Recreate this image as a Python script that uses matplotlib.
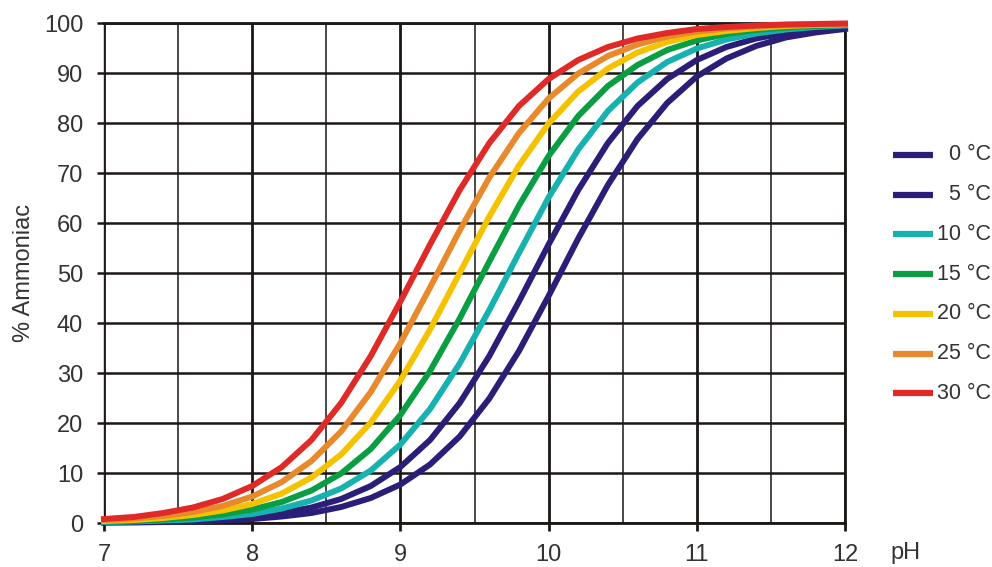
import matplotlib
matplotlib.use('Agg')
import matplotlib.pyplot as plt
from matplotlib.lines import Line2D
from matplotlib.ticker import MultipleLocator

plt.rcParams['font.family'] = ['Liberation Sans', 'DejaVu Sans']

# pH-Werte (Stützstellen)
ph = [7.0, 7.2, 7.4, 7.6, 7.8, 8.0, 8.2, 8.4, 8.6, 8.8, 9.0, 9.2, 9.4,
      9.6, 9.8, 10.0, 10.2, 10.4, 10.6, 10.8, 11.0, 11.2, 11.4, 11.6, 11.8, 12.0]

# % Ammoniac je Temperatur
t0 = [0.1, 0.1, 0.2, 0.3, 0.5, 0.8, 1.3, 2.0, 3.2, 5.0, 7.7, 11.7, 17.3,
      24.9, 34.4, 45.4, 56.9, 67.6, 76.8, 84.0, 89.3, 92.9, 95.4, 97.1, 98.1, 98.8]
t5 = [0.1, 0.2, 0.3, 0.5, 0.8, 1.2, 2.0, 3.1, 4.8, 7.4, 11.2, 16.6, 24.0,
      33.4, 44.3, 55.7, 66.6, 76.0, 83.4, 88.8, 92.6, 95.2, 96.9, 98.0, 98.8, 99.2]
t10 = [0.2, 0.3, 0.5, 0.7, 1.2, 1.8, 2.9, 4.5, 6.9, 10.5, 15.7, 22.8, 31.9,
       42.6, 54.0, 65.1, 74.7, 82.4, 88.1, 92.2, 94.9, 96.7, 97.9, 98.7, 99.2, 99.5]
t15 = [0.3, 0.4, 0.7, 1.1, 1.7, 2.7, 4.2, 6.5, 9.9, 14.8, 21.6, 30.4, 40.9,
       52.3, 63.5, 73.4, 81.4, 87.4, 91.6, 94.6, 96.5, 97.8, 98.6, 99.1, 99.4, 99.6]
t20 = [0.4, 0.6, 1.0, 1.6, 2.5, 3.8, 5.9, 9.1, 13.7, 20.1, 28.5, 38.7, 50.0,
       61.3, 71.5, 79.9, 86.3, 90.9, 94.1, 96.2, 97.6, 98.4, 99.0, 99.4, 99.6, 99.7]
t25 = [0.6, 0.9, 1.4, 2.2, 3.4, 5.3, 8.2, 12.4, 18.3, 26.2, 36.0, 47.1, 58.5,
       69.1, 78.0, 84.9, 89.9, 93.4, 95.7, 97.3, 98.3, 98.9, 99.3, 99.6, 99.7, 99.8]
t30 = [0.8, 1.2, 2.0, 3.1, 4.8, 7.4, 11.2, 16.6, 24.0, 33.4, 44.3, 55.7, 66.6,
       76.0, 83.4, 88.8, 92.6, 95.2, 96.9, 98.0, 98.8, 99.2, 99.5, 99.7, 99.8, 99.9]

serien = [t0, t5, t10, t15, t20, t25, t30]
labels = ['0 °C', '5 °C', '10 °C', '15 °C', '20 °C', '25 °C', '30 °C']
farben = ['#2a1e78', '#2a1e78', '#17b2b0', '#0a9e42', '#f5c200', '#e8892c', '#df2a28']

W, H = 992, 567
fig = plt.figure(figsize=(W / 100, H / 100), dpi=100)
ax = fig.add_axes([104 / W, 1 - 523 / H, 741 / W, 500 / H])

schwarz = '#1a1715'
grau = '#333333'
fs = 17

# Gitter
ax.set_xlim(7, 12)
ax.set_ylim(0, 100)
ax.xaxis.set_major_locator(MultipleLocator(1))
ax.xaxis.set_minor_locator(MultipleLocator(0.5))
ax.yaxis.set_major_locator(MultipleLocator(10))
ax.grid(which='major', axis='x', color=schwarz, lw=2.0)
ax.grid(which='minor', axis='x', color=schwarz, lw=1.1)
ax.grid(which='major', axis='y', color=schwarz, lw=1.8)
ax.set_axisbelow(True)

for s in ['top', 'bottom', 'right']:
    ax.spines[s].set_linewidth(2.0)
    ax.spines[s].set_color(schwarz)
ax.spines['left'].set_linewidth(1.0)
ax.spines['left'].set_color(schwarz)

ax.tick_params(axis='x', which='major', length=6, width=2, color=schwarz,
               pad=9, labelsize=fs, labelcolor=grau)
ax.tick_params(axis='x', which='minor', length=0)
ax.tick_params(axis='y', length=5, width=1.8, color=schwarz,
               pad=10, labelsize=fs, labelcolor=grau)
ax.xaxis.get_major_ticks()[0].tick1line.set_visible(False)

# Kurven
for werte, farbe in zip(serien, farben):
    ax.plot(ph, werte, color=farbe, lw=4.3, solid_joinstyle='miter', zorder=3, clip_on=False)

ax.set_ylabel('% Ammoniac', fontsize=fs, color=grau, labelpad=6)
fig.text(905 / W, 1 - 553 / H, 'pH', fontsize=fs, color=grau, ha='center', va='center')

# Legende
for i, (lab, farbe) in enumerate(zip(labels, farben)):
    y = 1 - (155 + i * 39.7) / H
    fig.add_artist(Line2D([893 / W, 933 / W], [y, y], color=farbe, lw=4.5,
                          solid_capstyle='butt'))
    fig.text(991 / W, y, lab, fontsize=15.5, color=grau, ha='right', va='center')

fig.savefig('out.png', dpi=100)
